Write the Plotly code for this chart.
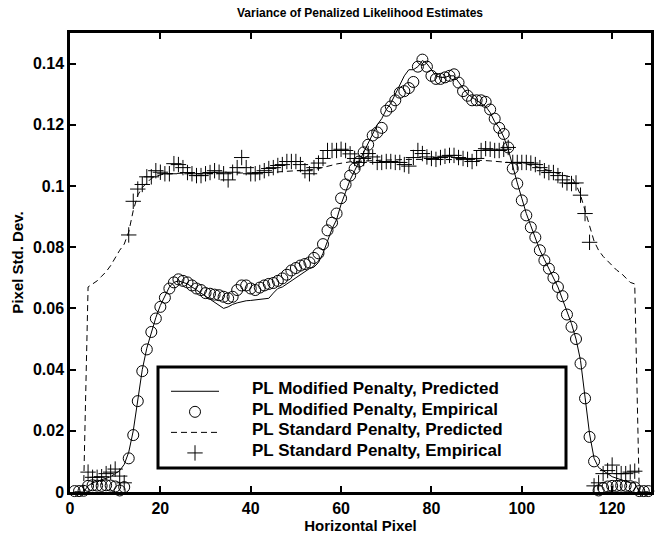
import plotly.graph_objects as go

pixels = list(range(1, 129))

mod_pred = [0, 0, 0,
    0.002, 0.003, 0.0035, 0.004, 0.0045, 0.005, 0.006, 0.007, 0.009,
    0.013, 0.020, 0.030, 0.040, 0.047, 0.052, 0.057, 0.061, 0.064, 0.067,
    0.0685, 0.069, 0.0685, 0.068, 0.067, 0.066, 0.065, 0.064, 0.063, 0.062,
    0.0608, 0.060, 0.0605, 0.0613, 0.0618, 0.0622, 0.0625, 0.0626, 0.0628, 0.063,
    0.0632, 0.0633, 0.065, 0.0665, 0.067, 0.068, 0.069, 0.070, 0.071, 0.072,
    0.073, 0.0735, 0.075, 0.078, 0.082, 0.086, 0.089, 0.094, 0.098, 0.102,
    0.105, 0.108, 0.111, 0.114, 0.117, 0.120, 0.122, 0.125, 0.127, 0.130,
    0.133, 0.136, 0.138, 0.138, 0.139, 0.141, 0.140, 0.138, 0.136, 0.1355,
    0.1355, 0.136, 0.136, 0.134, 0.132, 0.130, 0.129, 0.128, 0.127, 0.126,
    0.124, 0.121, 0.119, 0.116, 0.112, 0.106, 0.101, 0.096, 0.091, 0.087,
    0.083, 0.079, 0.076, 0.073, 0.070, 0.067, 0.063, 0.059, 0.055, 0.050,
    0.043, 0.031, 0.019, 0.011, 0.008, 0.007, 0.006, 0.005, 0.0045, 0.004,
    0.0035, 0.003, 0.003, 0, 0, 0]

mod_emp = [0.0003, 0.0003, 0.0004,
    0.002, 0.0022, 0.0021, 0.002, 0.0022, 0.0021, 0.0018, 0.0005, 0.0016,
    0.011, 0.0186, 0.0297, 0.0395, 0.0466, 0.0523, 0.0567, 0.0605, 0.0635, 0.0665,
    0.0685, 0.0695, 0.069, 0.0685, 0.0675, 0.0665, 0.066, 0.065, 0.0648, 0.0645,
    0.0643, 0.0638, 0.0633, 0.0638, 0.066, 0.0675, 0.0675, 0.0665, 0.066, 0.0668,
    0.0675, 0.068, 0.0683, 0.069, 0.0698, 0.071, 0.0724, 0.0732, 0.074, 0.0745,
    0.075, 0.0765, 0.078, 0.081, 0.0855, 0.088, 0.091, 0.096, 0.1005, 0.1034,
    0.1057, 0.108, 0.111, 0.1135, 0.1165, 0.1175, 0.119, 0.1246, 0.126, 0.128,
    0.1305, 0.131, 0.132, 0.134, 0.139, 0.1413, 0.139, 0.136, 0.135, 0.135,
    0.1355, 0.136, 0.1365, 0.1338, 0.131, 0.1295, 0.128, 0.128, 0.128, 0.1275,
    0.125, 0.122, 0.119, 0.117, 0.1126, 0.1057, 0.1008, 0.0953, 0.0904, 0.0865,
    0.0832, 0.079, 0.0757, 0.073, 0.070, 0.067, 0.064, 0.058, 0.054, 0.050,
    0.042, 0.0306, 0.018, 0.010, 0.0005, 0.0013, 0.0018, 0.002, 0.002, 0.0021,
    0.002, 0.0019, 0.0015, 0.0003, 0.0003, 0.0003]

std_pred = [0, 0, 0,
    0.067, 0.068, 0.069, 0.0705, 0.072, 0.074, 0.0765, 0.079, 0.081,
    0.085, 0.092, 0.097, 0.0995, 0.101, 0.1025, 0.1032, 0.1037, 0.104, 0.104,
    0.1041, 0.1042, 0.1042, 0.1041, 0.104, 0.104, 0.104, 0.104, 0.1041, 0.1042,
    0.1043, 0.1043, 0.1043, 0.1042, 0.1042, 0.1042, 0.1042, 0.1042, 0.1043, 0.1043,
    0.1044, 0.1044, 0.1045, 0.1046, 0.1046, 0.1047, 0.1047, 0.1048, 0.1049, 0.105,
    0.1052, 0.1054, 0.1057, 0.106, 0.1065, 0.1068, 0.1072, 0.1075, 0.1077, 0.1079,
    0.108, 0.1081, 0.1081, 0.1082, 0.1083, 0.1083, 0.1084, 0.1085, 0.1085, 0.1086,
    0.1086, 0.1086, 0.1087, 0.1087, 0.1087, 0.1088, 0.1088, 0.1088, 0.1088, 0.1088,
    0.1088, 0.1087, 0.1087, 0.1087, 0.1086, 0.1086, 0.1085, 0.1085, 0.1084, 0.1083,
    0.1082, 0.1081, 0.108, 0.1079, 0.1078, 0.1077, 0.1076, 0.1075, 0.1072, 0.1068,
    0.1065, 0.106, 0.1055, 0.105, 0.1045, 0.104, 0.1035, 0.1032, 0.103, 0.1005,
    0.097, 0.092, 0.087, 0.082, 0.079, 0.077, 0.0755, 0.074, 0.0725, 0.0715,
    0.070, 0.0685, 0.068, 0, 0, 0]

std_emp = [None, None, None,
    0.0065, 0.0048, 0.0048, 0.005, 0.006, 0.0065, 0.0075, 0.0052, 0.003,
    0.084, 0.095, 0.099, 0.1005, 0.103, 0.103, 0.105, 0.1045, 0.104, 0.104,
    0.1073, 0.107, 0.106, 0.1044, 0.104, 0.1034, 0.1034, 0.104, 0.1044, 0.105,
    0.1045, 0.104, 0.102, 0.1045, 0.106, 0.1093, 0.106, 0.104, 0.104, 0.1044,
    0.105, 0.1057, 0.106, 0.1067, 0.107, 0.108, 0.108, 0.108, 0.107, 0.105,
    0.104, 0.106, 0.1075, 0.109, 0.1116, 0.1116, 0.1116, 0.112, 0.1116, 0.1105,
    0.109, 0.1077, 0.109, 0.1106, 0.1095, 0.1077, 0.1077, 0.108, 0.108, 0.1077,
    0.1077, 0.107, 0.1065, 0.1093, 0.1116, 0.1106, 0.1095, 0.109, 0.1087, 0.1093,
    0.1097, 0.110, 0.110, 0.1093, 0.109, 0.1087, 0.108, 0.109, 0.1116, 0.1122,
    0.112, 0.1116, 0.1116, 0.112, 0.1126, 0.1077, 0.1077, 0.1077, 0.1077, 0.1075,
    0.107, 0.106, 0.105, 0.1044, 0.1044, 0.1034, 0.102, 0.101, 0.1008, 0.101,
    0.097, 0.091, 0.0816, 0.002, 0.003, 0.006, 0.007, 0.0088, 0.006, 0.006,
    0.006, 0.0065, 0.0068, None, None, None]

names = ["PL Modified Penalty, Predicted", "PL Modified Penalty, Empirical",
         "PL Standard Penalty, Predicted", "PL Standard Penalty, Empirical"]

FONT = "Liberation Sans, Arial, Helvetica, sans-serif"

W, H = 662, 537
L, R, T, B = 70, 11, 33, 45
PW, PH = W - L - R, H - T - B


def px_x(p):
    return (p - L) / PW


def px_y(p):
    return (H - B - p) / PH


fig = go.Figure()
fig.add_trace(go.Scatter(x=pixels, y=mod_pred, mode="lines", name=" ",
                         legendrank=1,
                         line=dict(color="black", width=1)))
fig.add_trace(go.Scatter(x=pixels, y=mod_emp, mode="markers", name="  ",
                         legendrank=2, cliponaxis=False,
                         marker=dict(symbol="circle-open", size=11, color="black",
                                     line=dict(width=1, color="black"))))
fig.add_trace(go.Scatter(x=pixels, y=std_pred, mode="lines", name="   ",
                         legendrank=3,
                         line=dict(color="black", width=1, dash="6px,4px")))
fig.add_trace(go.Scatter(x=pixels, y=std_emp, mode="markers", name="    ",
                         legendrank=4,
                         marker=dict(symbol="cross-thin-open", size=11, color="black",
                                     line=dict(width=1, color="black"))))

axis_common = dict(showline=True, linecolor="black", linewidth=2.5, mirror="ticks",
                   ticks="inside", ticklen=6, tickwidth=1.5, tickcolor="black",
                   showgrid=False, zeroline=False, automargin=False,
                   tickfont=dict(family=FONT, size=16, color="black", weight="bold"))

fig.update_xaxes(range=[0, 128.6], tickvals=[0, 20, 40, 60, 80, 100, 120],
                 title=dict(text="Horizontal Pixel", standoff=1,
                            font=dict(family=FONT, size=15, color="black", weight="bold")),
                 **axis_common)
fig.update_yaxes(range=[0, 0.15],
                 tickvals=[0, 0.02, 0.04, 0.06, 0.08, 0.1, 0.12, 0.14],
                 ticktext=["0", "0.02", "0.04", "0.06", "0.08", "0.1", "0.12", "0.14"],
                 title=dict(text="Pixel Std. Dev.", standoff=6,
                            font=dict(family=FONT, size=15, color="black", weight="bold")),
                 **axis_common)

# legend frame
fig.add_shape(type="rect", xref="paper", yref="paper",
              x0=px_x(158), x1=px_x(566), y0=px_y(468), y1=px_y(367),
              line=dict(color="black", width=3), fillcolor="white", layer="below")

# legend labels
row_y = [388, 409, 429, 450]
for name, ry in zip(names, row_y):
    fig.add_annotation(text=name, xref="paper", yref="paper",
                       x=px_x(250), y=px_y(ry), xanchor="left", yanchor="middle",
                       showarrow=False,
                       font=dict(family=FONT, size=17, color="black", weight="bold"))

fig.update_layout(
    width=W, height=H,
    margin=dict(l=L, r=R, t=T, b=B, autoexpand=False),
    paper_bgcolor="white", plot_bgcolor="white",
    title=dict(text="Variance of Penalized Likelihood Estimates",
               x=360 / W, xanchor="center", y=1 - 13 / H, yanchor="middle",
               yref="container", xref="container",
               font=dict(family=FONT, size=12, color="black", weight="bold")),
    legend=dict(x=px_x(166), y=px_y(376), xanchor="left", yanchor="top",
                bgcolor="rgba(0,0,0,0)", borderwidth=0, itemwidth=48,
                font=dict(family=FONT, size=13.5, color="black"),
                tracegroupgap=0),
    showlegend=True,
)

fig.write_html("out.html", config={"displayModeBar": False},
               post_script="document.body.style.margin='0px';")
